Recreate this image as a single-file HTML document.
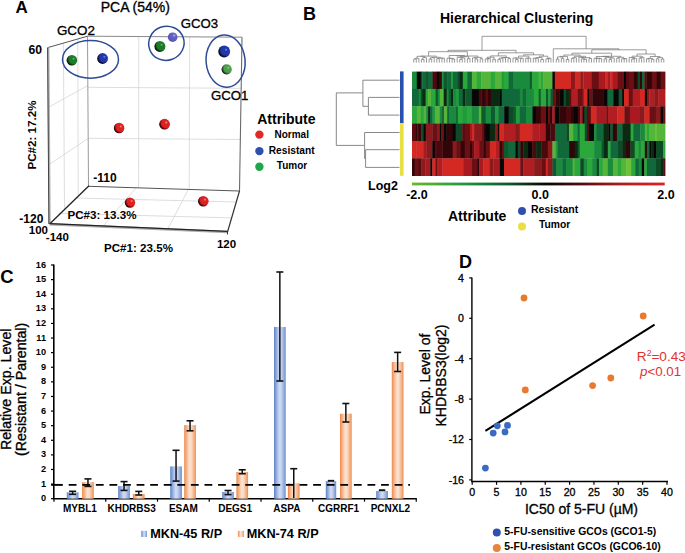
<!DOCTYPE html>
<html><head><meta charset="utf-8"><style>
html,body{margin:0;padding:0;background:#fff;overflow:hidden;}
svg{display:block;}
text{font-family:"Liberation Sans",sans-serif;}
</style></head><body>
<svg width="685" height="553" viewBox="0 0 685 553">
<defs><radialGradient id="gR" cx="0.64" cy="0.42" r="0.7" fx="0.66" fy="0.34"><stop offset="0" stop-color="#f6a0a0"/><stop offset="0.2" stop-color="#dc2222"/><stop offset="0.6" stop-color="#dc2222"/><stop offset="0.78" stop-color="#7a0808"/><stop offset="0.92" stop-color="#050505"/></radialGradient><radialGradient id="gB" cx="0.64" cy="0.42" r="0.7" fx="0.66" fy="0.34"><stop offset="0" stop-color="#7a8ae0"/><stop offset="0.2" stop-color="#2238a8"/><stop offset="0.6" stop-color="#2238a8"/><stop offset="0.78" stop-color="#0c1450"/><stop offset="0.92" stop-color="#050505"/></radialGradient><radialGradient id="gL" cx="0.62" cy="0.42" r="0.72" fx="0.66" fy="0.3"><stop offset="0" stop-color="#b4b4ee"/><stop offset="0.25" stop-color="#6464c8"/><stop offset="0.8" stop-color="#5656bc"/><stop offset="1" stop-color="#3c3ca0"/></radialGradient><radialGradient id="gG" cx="0.64" cy="0.42" r="0.7" fx="0.66" fy="0.34"><stop offset="0" stop-color="#70c070"/><stop offset="0.2" stop-color="#1c7c28"/><stop offset="0.6" stop-color="#1c7c28"/><stop offset="0.78" stop-color="#0a3a10"/><stop offset="0.92" stop-color="#050505"/></radialGradient><radialGradient id="gG2" cx="0.64" cy="0.42" r="0.7" fx="0.66" fy="0.34"><stop offset="0" stop-color="#a0d8a0"/><stop offset="0.2" stop-color="#4e9e4e"/><stop offset="0.6" stop-color="#4e9e4e"/><stop offset="0.78" stop-color="#245024"/><stop offset="0.92" stop-color="#050505"/></radialGradient><linearGradient id="bb" x1="0" x2="1" y1="0" y2="0"><stop offset="0" stop-color="#5b7fc9"/><stop offset="0.12" stop-color="#7d9bd6"/><stop offset="0.45" stop-color="#cfdaf1"/><stop offset="0.6" stop-color="#cbd7f0"/><stop offset="0.88" stop-color="#8aa6dc"/><stop offset="1" stop-color="#6a8ccf"/></linearGradient><linearGradient id="ob" x1="0" x2="1" y1="0" y2="0"><stop offset="0" stop-color="#ec8446"/><stop offset="0.12" stop-color="#f2a46f"/><stop offset="0.45" stop-color="#fbe2cf"/><stop offset="0.6" stop-color="#fadccb"/><stop offset="0.88" stop-color="#f2a977"/><stop offset="1" stop-color="#ec8a4c"/></linearGradient><linearGradient id="cs" x1="0" x2="1" y1="0" y2="0"><stop offset="0" stop-color="#6cb82c"/><stop offset="0.09" stop-color="#4aac30"/><stop offset="0.17" stop-color="#2aa040"/><stop offset="0.24" stop-color="#1a8a3c"/><stop offset="0.31" stop-color="#137038"/><stop offset="0.38" stop-color="#0d5a2e"/><stop offset="0.44" stop-color="#0a3a1a"/><stop offset="0.49" stop-color="#0a1a0c"/><stop offset="0.53" stop-color="#080606"/><stop offset="0.6" stop-color="#300506"/><stop offset="0.68" stop-color="#5a0a0c"/><stop offset="0.76" stop-color="#8a1518"/><stop offset="0.84" stop-color="#b01c1e"/><stop offset="0.92" stop-color="#cc2020"/><stop offset="1" stop-color="#d82422"/></linearGradient></defs>
<text x="15.5" y="13" font-size="17" font-weight="bold" text-anchor="start" fill="#000" >A</text>
<text x="100.7" y="12.3" font-size="14" font-weight="normal" text-anchor="start" fill="#000"  stroke="#000" stroke-width="0.32">PCA (54%)</text>
<line x1="138.8" y1="36.5" x2="138.6" y2="187.6" stroke="#d4d4d4" stroke-width="0.8" />
<line x1="189.7" y1="36.8" x2="189.2" y2="189.3" stroke="#d4d4d4" stroke-width="0.8" />
<line x1="88" y1="87.3" x2="241.2" y2="88.3" stroke="#d4d4d4" stroke-width="0.8" />
<line x1="88.3" y1="138.3" x2="240.5" y2="139.5" stroke="#d4d4d4" stroke-width="0.8" />
<line x1="63.4" y1="43.1" x2="64.5" y2="208.8" stroke="#d4d4d4" stroke-width="0.8" />
<line x1="77.8" y1="39.1" x2="78.2" y2="195.7" stroke="#d4d4d4" stroke-width="0.8" />
<line x1="48.5" y1="107.3" x2="87.6" y2="85.6" stroke="#d4d4d4" stroke-width="0.8" />
<line x1="48.9" y1="164.6" x2="88.3" y2="138.3" stroke="#d4d4d4" stroke-width="0.8" />
<line x1="136.6" y1="187.3" x2="101.3" y2="228" stroke="#d4d4d4" stroke-width="0.8" />
<line x1="188.7" y1="188.8" x2="167.2" y2="230" stroke="#d4d4d4" stroke-width="0.8" />
<line x1="75.3" y1="198" x2="236.2" y2="202" stroke="#d4d4d4" stroke-width="0.8" />
<line x1="58.4" y1="213.3" x2="231.6" y2="217.9" stroke="#d4d4d4" stroke-width="0.8" />
<line x1="87.5" y1="36.2" x2="242" y2="37.2" stroke="#8a8a8a" stroke-width="1" />
<line x1="87.5" y1="36.2" x2="88.5" y2="186.3" stroke="#9a9a9a" stroke-width="1" />
<line x1="242" y1="37.2" x2="239.5" y2="191" stroke="#6a6a6a" stroke-width="1.1" />
<line x1="47.8" y1="47.6" x2="87.5" y2="36.2" stroke="#555" stroke-width="1" />
<line x1="88.5" y1="186.3" x2="239.5" y2="191" stroke="#555" stroke-width="1" />
<line x1="48.3" y1="47.6" x2="49.6" y2="224" stroke="#b0b0b0" stroke-width="2.2" />
<line x1="47.6" y1="47.6" x2="48.9" y2="224" stroke="#444" stroke-width="1" />
<line x1="49.6" y1="224" x2="89" y2="185.7" stroke="#222" stroke-width="1.3" />
<line x1="49.6" y1="224.2" x2="227.5" y2="232" stroke="#aaa" stroke-width="2.6" />
<line x1="49.6" y1="223.6" x2="227.5" y2="231.4" stroke="#222" stroke-width="1.2" />
<line x1="227.5" y1="232" x2="239.5" y2="191" stroke="#333" stroke-width="1.2" />
<line x1="227.5" y1="231.5" x2="227.5" y2="234.5" stroke="#333" stroke-width="1" />
<ellipse cx="90.5" cy="59.4" rx="28" ry="18.8" fill="none" stroke="#2c4b94" stroke-width="1.5"/>
<ellipse cx="166.4" cy="43.3" rx="17.8" ry="17" fill="none" stroke="#2c4b94" stroke-width="1.5" transform="rotate(-20 166.4 43.3)"/>
<ellipse cx="225.6" cy="61.1" rx="19.5" ry="26.2" fill="none" stroke="#2c4b94" stroke-width="1.5" transform="rotate(-5 225.6 61.1)"/>
<circle cx="71.9" cy="60.3" r="5.3" fill="url(#gG)"/>
<circle cx="102.6" cy="58.5" r="5.4" fill="url(#gB)"/>
<circle cx="159.9" cy="46.4" r="5.5" fill="url(#gG)"/>
<circle cx="172.7" cy="37.2" r="4.8" fill="url(#gL)"/>
<circle cx="224.2" cy="51.5" r="5.9" fill="url(#gB)"/>
<circle cx="226.7" cy="69.3" r="5.1" fill="url(#gG2)"/>
<circle cx="119.1" cy="128" r="5.3" fill="url(#gR)"/>
<circle cx="164.6" cy="124.2" r="5.4" fill="url(#gR)"/>
<circle cx="130" cy="202.6" r="5.2" fill="url(#gR)"/>
<circle cx="203.3" cy="201.2" r="5.3" fill="url(#gR)"/>
<text x="56.9" y="34.5" font-size="13.4" font-weight="normal" text-anchor="start" fill="#000"  stroke="#000" stroke-width="0.32">GCO2</text>
<text x="180.7" y="28" font-size="13.2" font-weight="normal" text-anchor="start" fill="#000"  stroke="#000" stroke-width="0.32">GCO3</text>
<text x="210.9" y="99.9" font-size="13.2" font-weight="normal" text-anchor="start" fill="#000"  stroke="#000" stroke-width="0.32">GCO1</text>
<text x="42" y="54.2" font-size="12.2" font-weight="bold" text-anchor="end" fill="#000" >60</text>
<text x="93.3" y="182.3" font-size="12" font-weight="bold" text-anchor="start" fill="#000" >-110</text>
<text x="67.5" y="218.7" font-size="11.6" font-weight="bold" text-anchor="start" fill="#000" >PC#3: 13.3%</text>
<text x="43.4" y="222.7" font-size="12" font-weight="bold" text-anchor="end" fill="#000" >-120</text>
<text x="48" y="233.6" font-size="11.5" font-weight="bold" text-anchor="end" fill="#000" >100</text>
<text x="45.8" y="241.2" font-size="11.5" font-weight="bold" text-anchor="start" fill="#000" >-140</text>
<text x="104" y="251.9" font-size="11.6" font-weight="bold" text-anchor="start" fill="#000" >PC#1: 23.5%</text>
<text x="216.9" y="248.1" font-size="11.5" font-weight="bold" text-anchor="start" fill="#000" >120</text>
<text x="0" y="0" font-size="11.6" font-weight="bold" text-anchor="middle" transform="translate(35.6 135) rotate(-90)">PC#2: 17.2%</text>
<text x="286.4" y="123.6" font-size="14" font-weight="bold" text-anchor="middle" fill="#000" >Attribute</text>
<circle cx="259.4" cy="134.6" r="4.2" fill="#e02a2a"/>
<circle cx="259.4" cy="151.1" r="4.2" fill="#2f4fae"/>
<circle cx="259.4" cy="166.7" r="4.2" fill="#1ea64a"/>
<text x="291.7" y="138.2" font-size="10" font-weight="bold" text-anchor="middle" fill="#000" >Normal</text>
<text x="291.7" y="153.7" font-size="10.2" font-weight="bold" text-anchor="middle" fill="#000" >Resistant</text>
<text x="292" y="168.9" font-size="10" font-weight="bold" text-anchor="middle" fill="#000" >Tumor</text>
<text x="303" y="19.7" font-size="18" font-weight="bold" text-anchor="start" fill="#000" >B</text>
<text x="440" y="22.5" font-size="14" font-weight="bold" text-anchor="start" fill="#000" >Hierarchical Clustering</text>
<rect x="412.0" y="71.60" width="5.2" height="17.65" fill="#1a8a3c"/>
<rect x="416.8" y="71.60" width="4.4" height="17.65" fill="#060606"/>
<rect x="420.8" y="71.60" width="1.8" height="17.65" fill="#0d4a25"/>
<rect x="422.2" y="71.60" width="4.3" height="17.65" fill="#11683a"/>
<rect x="426.1" y="71.60" width="1.9" height="17.65" fill="#0d4a25"/>
<rect x="427.6" y="71.60" width="5.3" height="17.65" fill="#11683a"/>
<rect x="432.5" y="71.60" width="4.8" height="17.65" fill="#4a0a0d"/>
<rect x="436.9" y="71.60" width="2.3" height="17.65" fill="#060606"/>
<rect x="438.8" y="71.60" width="3.4" height="17.65" fill="#320508"/>
<rect x="441.8" y="71.60" width="2.3" height="17.65" fill="#1a8a3c"/>
<rect x="443.7" y="71.60" width="3.8" height="17.65" fill="#0e5a2e"/>
<rect x="447.1" y="71.60" width="4.3" height="17.65" fill="#11683a"/>
<rect x="451.0" y="71.60" width="2.4" height="17.65" fill="#1f9a3c"/>
<rect x="453.0" y="71.60" width="5.3" height="17.65" fill="#11683a"/>
<rect x="457.9" y="71.60" width="2.4" height="17.65" fill="#0d4a25"/>
<rect x="459.9" y="71.60" width="3.3" height="17.65" fill="#0a2a12"/>
<rect x="462.8" y="71.60" width="4.8" height="17.65" fill="#2aa83c"/>
<rect x="467.2" y="71.60" width="5.1" height="17.65" fill="#11683a"/>
<rect x="471.9" y="71.60" width="5.3" height="17.65" fill="#55b53a"/>
<rect x="476.8" y="71.60" width="4.8" height="17.65" fill="#2aa83c"/>
<rect x="481.2" y="71.60" width="9.7" height="17.65" fill="#55b53a"/>
<rect x="490.5" y="71.60" width="4.8" height="17.65" fill="#2aa83c"/>
<rect x="494.9" y="71.60" width="7.2" height="17.65" fill="#55b53a"/>
<rect x="501.7" y="71.60" width="2.4" height="17.65" fill="#1f9a3c"/>
<rect x="503.7" y="71.60" width="5.3" height="17.65" fill="#2aa83c"/>
<rect x="508.6" y="71.60" width="4.8" height="17.65" fill="#11683a"/>
<rect x="513.0" y="71.60" width="17.3" height="17.65" fill="#1a8a3c"/>
<rect x="529.9" y="71.60" width="2.4" height="17.65" fill="#0e5a2e"/>
<rect x="531.9" y="71.60" width="7.2" height="17.65" fill="#2aa83c"/>
<rect x="538.7" y="71.60" width="2.4" height="17.65" fill="#55b53a"/>
<rect x="540.7" y="71.60" width="2.8" height="17.65" fill="#2aa83c"/>
<rect x="543.1" y="71.60" width="9.7" height="17.65" fill="#55b53a"/>
<rect x="552.4" y="71.60" width="2.8" height="17.65" fill="#060606"/>
<rect x="554.8" y="71.60" width="16.6" height="17.65" fill="#d42822"/>
<rect x="571.0" y="71.60" width="4.3" height="17.65" fill="#8a1a1c"/>
<rect x="574.9" y="71.60" width="5.8" height="17.65" fill="#d42822"/>
<rect x="580.3" y="71.60" width="2.8" height="17.65" fill="#8a1a1c"/>
<rect x="582.7" y="71.60" width="1.7" height="17.65" fill="#d42822"/>
<rect x="584.0" y="71.60" width="8.2" height="17.65" fill="#b01e22"/>
<rect x="591.8" y="71.60" width="7.3" height="17.65" fill="#6a1015"/>
<rect x="598.7" y="71.60" width="6.7" height="17.65" fill="#a81a20"/>
<rect x="605.0" y="71.60" width="2.9" height="17.65" fill="#d42822"/>
<rect x="607.5" y="71.60" width="3.3" height="17.65" fill="#a81a20"/>
<rect x="610.4" y="71.60" width="2.8" height="17.65" fill="#d42822"/>
<rect x="612.8" y="71.60" width="4.8" height="17.65" fill="#a81a20"/>
<rect x="617.2" y="71.60" width="7.2" height="17.65" fill="#6a1015"/>
<rect x="624.0" y="71.60" width="2.4" height="17.65" fill="#060606"/>
<rect x="626.0" y="71.60" width="3.2" height="17.65" fill="#5a0a10"/>
<rect x="628.8" y="71.60" width="4.8" height="17.65" fill="#6a1015"/>
<rect x="633.2" y="71.60" width="4.8" height="17.65" fill="#320508"/>
<rect x="637.6" y="71.60" width="2.8" height="17.65" fill="#0d4a25"/>
<rect x="640.0" y="71.60" width="2.4" height="17.65" fill="#320508"/>
<rect x="642.0" y="71.60" width="2.8" height="17.65" fill="#11683a"/>
<rect x="644.4" y="71.60" width="2.4" height="17.65" fill="#5a0a10"/>
<rect x="646.4" y="71.60" width="5.8" height="17.65" fill="#320508"/>
<rect x="651.8" y="71.60" width="5.3" height="17.65" fill="#6a1015"/>
<rect x="656.7" y="71.60" width="4.3" height="17.65" fill="#320508"/>
<rect x="660.6" y="71.60" width="4.8" height="17.65" fill="#6a1015"/>
<rect x="412.0" y="88.95" width="7.2" height="17.65" fill="#11683a"/>
<rect x="418.8" y="88.95" width="2.4" height="17.65" fill="#1a8a3c"/>
<rect x="420.8" y="88.95" width="2.3" height="17.65" fill="#0d4a25"/>
<rect x="422.7" y="88.95" width="3.3" height="17.65" fill="#0a2a12"/>
<rect x="425.6" y="88.95" width="2.9" height="17.65" fill="#2aa83c"/>
<rect x="428.1" y="88.95" width="3.3" height="17.65" fill="#55b53a"/>
<rect x="431.0" y="88.95" width="4.8" height="17.65" fill="#2aa83c"/>
<rect x="435.4" y="88.95" width="2.9" height="17.65" fill="#0e5a2e"/>
<rect x="437.9" y="88.95" width="2.3" height="17.65" fill="#1a8a3c"/>
<rect x="439.8" y="88.95" width="4.3" height="17.65" fill="#55b53a"/>
<rect x="443.7" y="88.95" width="3.4" height="17.65" fill="#0a2a12"/>
<rect x="446.7" y="88.95" width="2.3" height="17.65" fill="#1a8a3c"/>
<rect x="448.6" y="88.95" width="2.8" height="17.65" fill="#0e5a2e"/>
<rect x="451.0" y="88.95" width="2.4" height="17.65" fill="#0a2a12"/>
<rect x="453.0" y="88.95" width="3.3" height="17.65" fill="#1a8a3c"/>
<rect x="455.9" y="88.95" width="3.4" height="17.65" fill="#1f9a3c"/>
<rect x="458.9" y="88.95" width="4.3" height="17.65" fill="#11683a"/>
<rect x="462.8" y="88.95" width="2.8" height="17.65" fill="#0a2a12"/>
<rect x="465.2" y="88.95" width="7.1" height="17.65" fill="#0e5a2e"/>
<rect x="471.9" y="88.95" width="7.3" height="17.65" fill="#060606"/>
<rect x="478.8" y="88.95" width="2.8" height="17.65" fill="#4a0a0d"/>
<rect x="481.2" y="88.95" width="4.8" height="17.65" fill="#320508"/>
<rect x="485.6" y="88.95" width="2.8" height="17.65" fill="#5a0a10"/>
<rect x="488.0" y="88.95" width="3.4" height="17.65" fill="#320508"/>
<rect x="491.0" y="88.95" width="4.3" height="17.65" fill="#0a2a12"/>
<rect x="494.9" y="88.95" width="4.8" height="17.65" fill="#0a2a12"/>
<rect x="499.3" y="88.95" width="2.8" height="17.65" fill="#060606"/>
<rect x="501.7" y="88.95" width="7.7" height="17.65" fill="#11683a"/>
<rect x="509.0" y="88.95" width="11.2" height="17.65" fill="#11683a"/>
<rect x="519.8" y="88.95" width="3.4" height="17.65" fill="#1a8a3c"/>
<rect x="522.8" y="88.95" width="3.6" height="17.65" fill="#11683a"/>
<rect x="526.0" y="88.95" width="8.2" height="17.65" fill="#1a8a3c"/>
<rect x="533.8" y="88.95" width="5.3" height="17.65" fill="#2aa83c"/>
<rect x="538.7" y="88.95" width="2.4" height="17.65" fill="#0e5a2e"/>
<rect x="540.7" y="88.95" width="5.7" height="17.65" fill="#2aa83c"/>
<rect x="546.0" y="88.95" width="2.4" height="17.65" fill="#0e5a2e"/>
<rect x="548.0" y="88.95" width="2.8" height="17.65" fill="#1f9a3c"/>
<rect x="550.4" y="88.95" width="2.9" height="17.65" fill="#0e5a2e"/>
<rect x="552.9" y="88.95" width="2.8" height="17.65" fill="#6a1015"/>
<rect x="555.3" y="88.95" width="4.3" height="17.65" fill="#320508"/>
<rect x="559.2" y="88.95" width="4.8" height="17.65" fill="#060606"/>
<rect x="563.6" y="88.95" width="2.8" height="17.65" fill="#0d4a25"/>
<rect x="566.0" y="88.95" width="3.4" height="17.65" fill="#0a2a12"/>
<rect x="569.0" y="88.95" width="2.9" height="17.65" fill="#5a0a10"/>
<rect x="571.5" y="88.95" width="6.7" height="17.65" fill="#b01e22"/>
<rect x="577.8" y="88.95" width="5.3" height="17.65" fill="#6a1015"/>
<rect x="582.7" y="88.95" width="1.7" height="17.65" fill="#a81a20"/>
<rect x="584.0" y="88.95" width="3.8" height="17.65" fill="#d42822"/>
<rect x="587.4" y="88.95" width="2.4" height="17.65" fill="#060606"/>
<rect x="589.4" y="88.95" width="3.3" height="17.65" fill="#6a1015"/>
<rect x="592.3" y="88.95" width="11.6" height="17.65" fill="#320508"/>
<rect x="603.5" y="88.95" width="4.4" height="17.65" fill="#060606"/>
<rect x="607.5" y="88.95" width="6.2" height="17.65" fill="#11683a"/>
<rect x="613.3" y="88.95" width="5.8" height="17.65" fill="#060606"/>
<rect x="618.7" y="88.95" width="3.8" height="17.65" fill="#0e5a2e"/>
<rect x="622.1" y="88.95" width="2.3" height="17.65" fill="#060606"/>
<rect x="624.0" y="88.95" width="5.2" height="17.65" fill="#d42822"/>
<rect x="628.8" y="88.95" width="4.3" height="17.65" fill="#6a1015"/>
<rect x="632.7" y="88.95" width="7.7" height="17.65" fill="#b01e22"/>
<rect x="640.0" y="88.95" width="5.3" height="17.65" fill="#d42822"/>
<rect x="644.9" y="88.95" width="2.4" height="17.65" fill="#060606"/>
<rect x="646.9" y="88.95" width="2.8" height="17.65" fill="#8a1a1c"/>
<rect x="649.3" y="88.95" width="5.3" height="17.65" fill="#b01e22"/>
<rect x="654.2" y="88.95" width="4.3" height="17.65" fill="#8a1a1c"/>
<rect x="658.1" y="88.95" width="7.3" height="17.65" fill="#b01e22"/>
<rect x="412.0" y="106.30" width="5.2" height="17.65" fill="#2aa83c"/>
<rect x="416.8" y="106.30" width="4.4" height="17.65" fill="#55b53a"/>
<rect x="420.8" y="106.30" width="3.3" height="17.65" fill="#2aa83c"/>
<rect x="423.7" y="106.30" width="2.8" height="17.65" fill="#55b53a"/>
<rect x="426.1" y="106.30" width="2.4" height="17.65" fill="#1a8a3c"/>
<rect x="428.1" y="106.30" width="2.3" height="17.65" fill="#0a2a12"/>
<rect x="430.0" y="106.30" width="2.9" height="17.65" fill="#11683a"/>
<rect x="432.5" y="106.30" width="2.9" height="17.65" fill="#1f9a3c"/>
<rect x="435.0" y="106.30" width="5.2" height="17.65" fill="#55b53a"/>
<rect x="439.8" y="106.30" width="2.8" height="17.65" fill="#1a8a3c"/>
<rect x="442.2" y="106.30" width="1.9" height="17.65" fill="#0d4a25"/>
<rect x="443.7" y="106.30" width="3.8" height="17.65" fill="#55b53a"/>
<rect x="447.1" y="106.30" width="2.3" height="17.65" fill="#11683a"/>
<rect x="449.0" y="106.30" width="7.4" height="17.65" fill="#1a8a3c"/>
<rect x="456.0" y="106.30" width="2.3" height="17.65" fill="#11683a"/>
<rect x="457.9" y="106.30" width="5.3" height="17.65" fill="#2aa83c"/>
<rect x="462.8" y="106.30" width="4.3" height="17.65" fill="#1f9a3c"/>
<rect x="466.7" y="106.30" width="5.6" height="17.65" fill="#2aa83c"/>
<rect x="471.9" y="106.30" width="7.3" height="17.65" fill="#1a8a3c"/>
<rect x="478.8" y="106.30" width="2.8" height="17.65" fill="#55b53a"/>
<rect x="481.2" y="106.30" width="4.8" height="17.65" fill="#0e5a2e"/>
<rect x="485.6" y="106.30" width="5.8" height="17.65" fill="#1a8a3c"/>
<rect x="491.0" y="106.30" width="4.3" height="17.65" fill="#0e5a2e"/>
<rect x="494.9" y="106.30" width="3.8" height="17.65" fill="#1f9a3c"/>
<rect x="498.3" y="106.30" width="6.3" height="17.65" fill="#11683a"/>
<rect x="504.2" y="106.30" width="4.8" height="17.65" fill="#060606"/>
<rect x="508.6" y="106.30" width="4.8" height="17.65" fill="#0d4a25"/>
<rect x="513.0" y="106.30" width="3.3" height="17.65" fill="#0e5a2e"/>
<rect x="515.9" y="106.30" width="4.3" height="17.65" fill="#1f9a3c"/>
<rect x="519.8" y="106.30" width="6.6" height="17.65" fill="#11683a"/>
<rect x="526.0" y="106.30" width="6.8" height="17.65" fill="#1a8a3c"/>
<rect x="532.4" y="106.30" width="3.8" height="17.65" fill="#060606"/>
<rect x="535.8" y="106.30" width="5.3" height="17.65" fill="#320508"/>
<rect x="540.7" y="106.30" width="5.7" height="17.65" fill="#6a1015"/>
<rect x="546.0" y="106.30" width="2.4" height="17.65" fill="#060606"/>
<rect x="548.0" y="106.30" width="2.4" height="17.65" fill="#6a1015"/>
<rect x="550.0" y="106.30" width="2.8" height="17.65" fill="#320508"/>
<rect x="552.4" y="106.30" width="2.8" height="17.65" fill="#b01e22"/>
<rect x="554.8" y="106.30" width="4.8" height="17.65" fill="#060606"/>
<rect x="559.2" y="106.30" width="7.2" height="17.65" fill="#320508"/>
<rect x="566.0" y="106.30" width="5.4" height="17.65" fill="#4a0a0d"/>
<rect x="571.0" y="106.30" width="3.3" height="17.65" fill="#320508"/>
<rect x="573.9" y="106.30" width="4.3" height="17.65" fill="#060606"/>
<rect x="577.8" y="106.30" width="2.9" height="17.65" fill="#4a0a0d"/>
<rect x="580.3" y="106.30" width="2.8" height="17.65" fill="#a81a20"/>
<rect x="582.7" y="106.30" width="2.2" height="17.65" fill="#060606"/>
<rect x="584.5" y="106.30" width="2.8" height="17.65" fill="#0d4a25"/>
<rect x="586.9" y="106.30" width="4.3" height="17.65" fill="#5a0a10"/>
<rect x="590.8" y="106.30" width="5.8" height="17.65" fill="#d42822"/>
<rect x="596.2" y="106.30" width="10.7" height="17.65" fill="#a81a20"/>
<rect x="606.5" y="106.30" width="1.9" height="17.65" fill="#6a1015"/>
<rect x="608.0" y="106.30" width="9.6" height="17.65" fill="#b01e22"/>
<rect x="617.2" y="106.30" width="7.6" height="17.65" fill="#d42822"/>
<rect x="624.4" y="106.30" width="5.8" height="17.65" fill="#6a1015"/>
<rect x="629.8" y="106.30" width="10.6" height="17.65" fill="#a81a20"/>
<rect x="640.0" y="106.30" width="4.8" height="17.65" fill="#8a1a1c"/>
<rect x="644.4" y="106.30" width="5.3" height="17.65" fill="#d42822"/>
<rect x="649.3" y="106.30" width="6.9" height="17.65" fill="#6a1015"/>
<rect x="655.8" y="106.30" width="5.2" height="17.65" fill="#8a1a1c"/>
<rect x="660.6" y="106.30" width="2.8" height="17.65" fill="#060606"/>
<rect x="663.0" y="106.30" width="2.4" height="17.65" fill="#6a1015"/>
<rect x="412.0" y="123.65" width="3.5" height="17.65" fill="#5a0a10"/>
<rect x="415.1" y="123.65" width="2.4" height="17.65" fill="#320508"/>
<rect x="417.1" y="123.65" width="1.9" height="17.65" fill="#5a0a10"/>
<rect x="418.6" y="123.65" width="2.9" height="17.65" fill="#320508"/>
<rect x="421.1" y="123.65" width="3.0" height="17.65" fill="#0d4a25"/>
<rect x="423.7" y="123.65" width="2.4" height="17.65" fill="#060606"/>
<rect x="425.7" y="123.65" width="7.0" height="17.65" fill="#8a1a1c"/>
<rect x="432.3" y="123.65" width="5.0" height="17.65" fill="#6a1015"/>
<rect x="436.9" y="123.65" width="3.4" height="17.65" fill="#8a1a1c"/>
<rect x="439.9" y="123.65" width="1.9" height="17.65" fill="#060606"/>
<rect x="441.4" y="123.65" width="3.0" height="17.65" fill="#6a1015"/>
<rect x="444.0" y="123.65" width="2.9" height="17.65" fill="#060606"/>
<rect x="446.5" y="123.65" width="6.5" height="17.65" fill="#320508"/>
<rect x="452.6" y="123.65" width="3.4" height="17.65" fill="#060606"/>
<rect x="455.6" y="123.65" width="7.0" height="17.65" fill="#0d4a25"/>
<rect x="462.2" y="123.65" width="2.9" height="17.65" fill="#5a0a10"/>
<rect x="464.7" y="123.65" width="5.7" height="17.65" fill="#6a1015"/>
<rect x="470.0" y="123.65" width="2.4" height="17.65" fill="#a81a20"/>
<rect x="472.0" y="123.65" width="2.5" height="17.65" fill="#d42822"/>
<rect x="474.1" y="123.65" width="7.5" height="17.65" fill="#8a1a1c"/>
<rect x="481.2" y="123.65" width="2.4" height="17.65" fill="#6a1015"/>
<rect x="483.2" y="123.65" width="2.9" height="17.65" fill="#320508"/>
<rect x="485.7" y="123.65" width="4.5" height="17.65" fill="#060606"/>
<rect x="489.8" y="123.65" width="5.5" height="17.65" fill="#0a2a12"/>
<rect x="494.9" y="123.65" width="3.4" height="17.65" fill="#8a1a1c"/>
<rect x="497.9" y="123.65" width="1.9" height="17.65" fill="#060606"/>
<rect x="499.4" y="123.65" width="5.0" height="17.65" fill="#d42822"/>
<rect x="504.0" y="123.65" width="12.0" height="17.65" fill="#b01e22"/>
<rect x="515.6" y="123.65" width="4.5" height="17.65" fill="#8a1a1c"/>
<rect x="519.7" y="123.65" width="12.8" height="17.65" fill="#d42822"/>
<rect x="532.1" y="123.65" width="7.5" height="17.65" fill="#b01e22"/>
<rect x="539.2" y="123.65" width="7.0" height="17.65" fill="#a81a20"/>
<rect x="545.8" y="123.65" width="4.9" height="17.65" fill="#320508"/>
<rect x="550.3" y="123.65" width="5.0" height="17.65" fill="#4a0a0d"/>
<rect x="554.9" y="123.65" width="12.0" height="17.65" fill="#11683a"/>
<rect x="566.5" y="123.65" width="3.0" height="17.65" fill="#0d4a25"/>
<rect x="569.1" y="123.65" width="4.4" height="17.65" fill="#55b53a"/>
<rect x="573.1" y="123.65" width="5.0" height="17.65" fill="#1f9a3c"/>
<rect x="577.7" y="123.65" width="2.4" height="17.65" fill="#11683a"/>
<rect x="579.7" y="123.65" width="5.5" height="17.65" fill="#2aa83c"/>
<rect x="584.8" y="123.65" width="2.6" height="17.65" fill="#0d4a25"/>
<rect x="587.0" y="123.65" width="2.4" height="17.65" fill="#5a0a10"/>
<rect x="589.0" y="123.65" width="5.5" height="17.65" fill="#060606"/>
<rect x="594.1" y="123.65" width="3.0" height="17.65" fill="#1a8a3c"/>
<rect x="596.7" y="123.65" width="7.0" height="17.65" fill="#11683a"/>
<rect x="603.3" y="123.65" width="5.4" height="17.65" fill="#0a2a12"/>
<rect x="608.3" y="123.65" width="2.5" height="17.65" fill="#060606"/>
<rect x="610.4" y="123.65" width="2.9" height="17.65" fill="#0e5a2e"/>
<rect x="612.9" y="123.65" width="4.4" height="17.65" fill="#320508"/>
<rect x="616.9" y="123.65" width="6.0" height="17.65" fill="#11683a"/>
<rect x="622.5" y="123.65" width="8.5" height="17.65" fill="#0a2a12"/>
<rect x="630.6" y="123.65" width="3.0" height="17.65" fill="#2aa83c"/>
<rect x="633.2" y="123.65" width="7.5" height="17.65" fill="#11683a"/>
<rect x="640.3" y="123.65" width="4.9" height="17.65" fill="#1a8a3c"/>
<rect x="644.8" y="123.65" width="2.5" height="17.65" fill="#55b53a"/>
<rect x="646.9" y="123.65" width="2.9" height="17.65" fill="#2aa83c"/>
<rect x="649.4" y="123.65" width="6.0" height="17.65" fill="#55b53a"/>
<rect x="655.0" y="123.65" width="1.9" height="17.65" fill="#6cc03a"/>
<rect x="656.5" y="123.65" width="8.9" height="17.65" fill="#55b53a"/>
<rect x="412.0" y="141.00" width="4.5" height="17.65" fill="#d42822"/>
<rect x="416.1" y="141.00" width="7.5" height="17.65" fill="#d42822"/>
<rect x="423.2" y="141.00" width="3.4" height="17.65" fill="#a81a20"/>
<rect x="426.2" y="141.00" width="6.5" height="17.65" fill="#8a1a1c"/>
<rect x="432.3" y="141.00" width="2.9" height="17.65" fill="#060606"/>
<rect x="434.8" y="141.00" width="2.5" height="17.65" fill="#5a0a10"/>
<rect x="436.9" y="141.00" width="5.9" height="17.65" fill="#4a0a0d"/>
<rect x="442.4" y="141.00" width="10.6" height="17.65" fill="#320508"/>
<rect x="452.6" y="141.00" width="3.9" height="17.65" fill="#8a1a1c"/>
<rect x="456.1" y="141.00" width="5.0" height="17.65" fill="#6a1015"/>
<rect x="460.7" y="141.00" width="4.4" height="17.65" fill="#320508"/>
<rect x="464.7" y="141.00" width="5.7" height="17.65" fill="#6a1015"/>
<rect x="470.0" y="141.00" width="2.4" height="17.65" fill="#320508"/>
<rect x="472.0" y="141.00" width="2.5" height="17.65" fill="#6a1015"/>
<rect x="474.1" y="141.00" width="5.4" height="17.65" fill="#a81a20"/>
<rect x="479.1" y="141.00" width="4.5" height="17.65" fill="#6a1015"/>
<rect x="483.2" y="141.00" width="2.9" height="17.65" fill="#320508"/>
<rect x="485.7" y="141.00" width="4.5" height="17.65" fill="#6a1015"/>
<rect x="489.8" y="141.00" width="6.0" height="17.65" fill="#d42822"/>
<rect x="495.4" y="141.00" width="4.4" height="17.65" fill="#b01e22"/>
<rect x="499.4" y="141.00" width="3.0" height="17.65" fill="#320508"/>
<rect x="502.0" y="141.00" width="2.4" height="17.65" fill="#6a1015"/>
<rect x="504.0" y="141.00" width="4.4" height="17.65" fill="#0e5a2e"/>
<rect x="508.0" y="141.00" width="8.0" height="17.65" fill="#11683a"/>
<rect x="515.6" y="141.00" width="2.5" height="17.65" fill="#060606"/>
<rect x="517.7" y="141.00" width="2.9" height="17.65" fill="#0d4a25"/>
<rect x="520.2" y="141.00" width="3.4" height="17.65" fill="#320508"/>
<rect x="523.2" y="141.00" width="4.7" height="17.65" fill="#0a2a12"/>
<rect x="527.5" y="141.00" width="5.0" height="17.65" fill="#060606"/>
<rect x="532.1" y="141.00" width="4.4" height="17.65" fill="#4a0a0d"/>
<rect x="536.1" y="141.00" width="5.5" height="17.65" fill="#0a2a12"/>
<rect x="541.2" y="141.00" width="7.0" height="17.65" fill="#4a0a0d"/>
<rect x="547.8" y="141.00" width="5.0" height="17.65" fill="#8a1a1c"/>
<rect x="552.4" y="141.00" width="3.4" height="17.65" fill="#55b53a"/>
<rect x="555.4" y="141.00" width="2.4" height="17.65" fill="#1f9a3c"/>
<rect x="557.4" y="141.00" width="12.1" height="17.65" fill="#11683a"/>
<rect x="569.1" y="141.00" width="5.9" height="17.65" fill="#320508"/>
<rect x="574.6" y="141.00" width="3.5" height="17.65" fill="#0a2a12"/>
<rect x="577.7" y="141.00" width="2.4" height="17.65" fill="#0e5a2e"/>
<rect x="579.7" y="141.00" width="7.7" height="17.65" fill="#2aa83c"/>
<rect x="587.0" y="141.00" width="7.5" height="17.65" fill="#2aa83c"/>
<rect x="594.1" y="141.00" width="7.5" height="17.65" fill="#1a8a3c"/>
<rect x="601.2" y="141.00" width="3.0" height="17.65" fill="#0e5a2e"/>
<rect x="603.8" y="141.00" width="4.4" height="17.65" fill="#0a2a12"/>
<rect x="607.8" y="141.00" width="3.0" height="17.65" fill="#2aa83c"/>
<rect x="610.4" y="141.00" width="7.4" height="17.65" fill="#11683a"/>
<rect x="617.4" y="141.00" width="5.5" height="17.65" fill="#0d4a25"/>
<rect x="622.5" y="141.00" width="3.9" height="17.65" fill="#0a2a12"/>
<rect x="626.0" y="141.00" width="4.8" height="17.65" fill="#320508"/>
<rect x="630.4" y="141.00" width="4.7" height="17.65" fill="#0d4a25"/>
<rect x="634.7" y="141.00" width="4.4" height="17.65" fill="#2aa83c"/>
<rect x="638.7" y="141.00" width="2.5" height="17.65" fill="#1a8a3c"/>
<rect x="640.8" y="141.00" width="4.4" height="17.65" fill="#2aa83c"/>
<rect x="644.8" y="141.00" width="2.5" height="17.65" fill="#320508"/>
<rect x="646.9" y="141.00" width="2.9" height="17.65" fill="#11683a"/>
<rect x="649.4" y="141.00" width="2.4" height="17.65" fill="#060606"/>
<rect x="651.4" y="141.00" width="3.0" height="17.65" fill="#0a2a12"/>
<rect x="654.0" y="141.00" width="2.4" height="17.65" fill="#060606"/>
<rect x="656.0" y="141.00" width="7.5" height="17.65" fill="#0d4a25"/>
<rect x="663.1" y="141.00" width="2.3" height="17.65" fill="#2aa83c"/>
<rect x="412.0" y="158.35" width="3.0" height="17.65" fill="#320508"/>
<rect x="414.6" y="158.35" width="2.9" height="17.65" fill="#6a1015"/>
<rect x="417.1" y="158.35" width="4.4" height="17.65" fill="#5a0a10"/>
<rect x="421.1" y="158.35" width="4.5" height="17.65" fill="#8a1a1c"/>
<rect x="425.2" y="158.35" width="5.5" height="17.65" fill="#a81a20"/>
<rect x="430.3" y="158.35" width="2.4" height="17.65" fill="#060606"/>
<rect x="432.3" y="158.35" width="3.4" height="17.65" fill="#d42822"/>
<rect x="435.3" y="158.35" width="2.5" height="17.65" fill="#6a1015"/>
<rect x="437.4" y="158.35" width="5.4" height="17.65" fill="#b01e22"/>
<rect x="442.4" y="158.35" width="11.6" height="17.65" fill="#d42822"/>
<rect x="453.6" y="158.35" width="2.4" height="17.65" fill="#d42822"/>
<rect x="455.6" y="158.35" width="8.5" height="17.65" fill="#d42822"/>
<rect x="463.7" y="158.35" width="8.7" height="17.65" fill="#a81a20"/>
<rect x="472.0" y="158.35" width="5.5" height="17.65" fill="#6a1015"/>
<rect x="477.1" y="158.35" width="2.4" height="17.65" fill="#320508"/>
<rect x="479.1" y="158.35" width="4.5" height="17.65" fill="#a81a20"/>
<rect x="483.2" y="158.35" width="7.0" height="17.65" fill="#d42822"/>
<rect x="489.8" y="158.35" width="3.9" height="17.65" fill="#8a1a1c"/>
<rect x="493.3" y="158.35" width="7.0" height="17.65" fill="#a81a20"/>
<rect x="499.9" y="158.35" width="4.5" height="17.65" fill="#060606"/>
<rect x="504.0" y="158.35" width="16.6" height="17.65" fill="#d42822"/>
<rect x="520.2" y="158.35" width="3.4" height="17.65" fill="#6a1015"/>
<rect x="523.2" y="158.35" width="11.3" height="17.65" fill="#b01e22"/>
<rect x="534.1" y="158.35" width="7.5" height="17.65" fill="#8a1a1c"/>
<rect x="541.2" y="158.35" width="5.0" height="17.65" fill="#6a1015"/>
<rect x="545.8" y="158.35" width="2.4" height="17.65" fill="#d42822"/>
<rect x="547.8" y="158.35" width="5.0" height="17.65" fill="#8a1a1c"/>
<rect x="552.4" y="158.35" width="4.4" height="17.65" fill="#0e5a2e"/>
<rect x="556.4" y="158.35" width="6.5" height="17.65" fill="#1a8a3c"/>
<rect x="562.5" y="158.35" width="3.9" height="17.65" fill="#11683a"/>
<rect x="566.0" y="158.35" width="7.0" height="17.65" fill="#1a8a3c"/>
<rect x="572.6" y="158.35" width="2.4" height="17.65" fill="#55b53a"/>
<rect x="574.6" y="158.35" width="6.0" height="17.65" fill="#2aa83c"/>
<rect x="580.2" y="158.35" width="3.9" height="17.65" fill="#0d4a25"/>
<rect x="583.7" y="158.35" width="3.7" height="17.65" fill="#1a8a3c"/>
<rect x="587.0" y="158.35" width="5.5" height="17.65" fill="#2aa83c"/>
<rect x="592.1" y="158.35" width="5.0" height="17.65" fill="#1a8a3c"/>
<rect x="596.7" y="158.35" width="2.9" height="17.65" fill="#0d4a25"/>
<rect x="599.2" y="158.35" width="3.9" height="17.65" fill="#2aa83c"/>
<rect x="602.7" y="158.35" width="5.5" height="17.65" fill="#55b53a"/>
<rect x="607.8" y="158.35" width="5.5" height="17.65" fill="#1a8a3c"/>
<rect x="612.9" y="158.35" width="4.9" height="17.65" fill="#55b53a"/>
<rect x="617.4" y="158.35" width="4.5" height="17.65" fill="#2aa83c"/>
<rect x="621.5" y="158.35" width="5.0" height="17.65" fill="#55b53a"/>
<rect x="626.1" y="158.35" width="5.4" height="17.65" fill="#6cc03a"/>
<rect x="631.1" y="158.35" width="4.5" height="17.65" fill="#2aa83c"/>
<rect x="635.2" y="158.35" width="3.9" height="17.65" fill="#11683a"/>
<rect x="638.7" y="158.35" width="3.5" height="17.65" fill="#1a8a3c"/>
<rect x="641.8" y="158.35" width="2.9" height="17.65" fill="#060606"/>
<rect x="644.3" y="158.35" width="3.0" height="17.65" fill="#2aa83c"/>
<rect x="646.9" y="158.35" width="9.5" height="17.65" fill="#11683a"/>
<rect x="656.0" y="158.35" width="5.4" height="17.65" fill="#0d4a25"/>
<rect x="661.0" y="158.35" width="2.5" height="17.65" fill="#0a2a12"/>
<rect x="663.1" y="158.35" width="2.3" height="17.65" fill="#5a0a10"/>
<rect x="400" y="71.4" width="3.6" height="51.8" fill="#2a50b0"/>
<rect x="400" y="123.2" width="3.6" height="52.6" fill="#e6e040"/>
<path d="M399.5 80.2H362.9V106.3H368.4V97.4H399.5M368.4 106.3V115.1H399.5" fill="none" stroke="#7a7a7a" stroke-width="0.9"/>
<path d="M362.9 92.9H336.3V145.4H364.6V132.5H399.5M364.6 145.4V158.5H365.6V149.7H399.5M365.6 158.5V167.4H399.5" fill="none" stroke="#7a7a7a" stroke-width="0.9"/>
<path d="M413.8 62.6V59.1H416.3V62.6 M415.1 59.1V58.3H418.9V62.6 M421.4 62.6V59.4H424.0V62.6 M422.7 59.4V57.7H426.5V62.6 M417.0 58.3V56.3H424.6V57.7 M429.1 62.6V59.1H431.7V62.6 M430.4 59.1V57.7H434.2V62.6 M436.8 62.6V58.6H439.3V62.6 M441.9 62.6V58.2H444.4V62.6 M438.0 58.6V58.1H443.1V58.2 M432.3 57.7V57.3H440.6V58.1 M420.8 56.3V56.1H436.4V57.3 M452.1 62.6V59.0H454.6V62.6 M449.5 62.6V58.4H453.4V59.0 M447.0 62.6V58.2H451.4V58.4 M459.7 62.6V59.5H462.3V62.6 M461.0 59.5V58.0H464.8V62.6 M457.2 62.6V57.4H462.9V58.0 M467.4 62.6V58.6H470.0V62.6 M460.1 57.4V56.7H468.7V58.6 M449.2 58.2V55.5H464.4V56.7 M475.1 62.6V59.0H477.6V62.6 M472.5 62.6V57.9H476.3V59.0 M480.2 62.6V58.7H482.7V62.6 M474.4 57.9V57.4H481.4V58.7 M456.8 55.5V56.0H477.9V57.4 M428.6 56.1V51.7H467.4V56.0 M487.8 62.6V58.3H490.3V62.6 M485.3 62.6V58.9H489.1V58.3 M492.8 62.6V59.3H495.4V62.6 M487.2 58.9V57.2H494.1V59.3 M497.9 62.6V59.4H500.4V62.6 M499.2 59.4V58.2H502.9V62.6 M501.1 58.2V57.8H505.5V62.6 M508.0 62.6V58.6H510.5V62.6 M503.3 57.8V57.5H509.3V58.6 M490.6 57.2V55.9H506.3V57.5 M515.6 62.6V59.6H518.1V62.6 M513.0 62.6V58.0H516.8V59.6 M520.6 62.6V58.2H523.2V62.6 M514.9 58.0V58.1H521.9V58.2 M525.7 62.6V58.2H528.2V62.6 M526.9 58.2V58.2H530.7V62.6 M518.4 58.1V56.1H528.8V58.2 M533.3 62.6V58.2H535.8V62.6 M534.5 58.2V58.3H538.3V62.6 M540.8 62.6V59.5H543.4V62.6 M536.4 58.3V57.5H542.1V59.5 M548.4 62.6V58.1H550.9V62.6 M545.9 62.6V58.8H549.7V58.1 M539.3 57.5V56.2H547.8V58.8 M523.6 56.1V54.8H543.5V56.2 M498.4 55.9V52.8H533.6V54.8 M448.0 51.7V50.3H516.0V52.8 M556.3 62.6V59.1H558.8V62.6 M561.3 62.6V58.3H563.8V62.6 M557.5 59.1V56.9H562.6V58.3 M566.3 62.6V59.5H568.8V62.6 M560.0 56.9V56.4H567.6V59.5 M571.4 62.6V58.4H573.9V62.6 M572.6 58.4V57.7H576.4V62.6 M583.9 62.6V59.3H586.5V62.6 M581.4 62.6V58.9H585.2V59.3 M578.9 62.6V57.2H583.3V58.9 M589.0 62.6V58.5H591.5V62.6 M581.1 57.2V57.6H590.2V58.5 M574.5 57.7V56.3H585.7V57.6 M563.8 56.4V55.0H580.1V56.3 M599.1 62.6V58.6H601.6V62.6 M596.5 62.6V58.2H600.3V58.6 M594.0 62.6V58.3H598.4V58.2 M604.1 62.6V58.9H606.6V62.6 M609.1 62.6V59.5H611.6V62.6 M610.4 59.5V58.0H614.2V62.6 M605.3 58.9V57.6H612.3V58.0 M596.2 58.3V56.5H608.8V57.6 M616.7 62.6V58.1H619.2V62.6 M624.2 62.6V58.6H626.7V62.6 M621.7 62.6V58.8H625.5V58.6 M617.9 58.1V57.3H623.6V58.8 M602.5 56.5V56.3H620.8V57.3 M572.0 55.0V53.2H611.6V56.3 M631.7 62.6V59.0H634.2V62.6 M632.9 59.0V58.4H636.6V62.6 M629.2 62.6V57.5H634.8V58.4 M639.1 62.6V58.1H641.6V62.6 M640.3 58.1V57.4H644.0V62.6 M632.0 57.5V56.2H642.2V57.4 M646.5 62.6V58.8H649.0V62.6 M651.4 62.6V59.4H653.9V62.6 M647.7 58.8V58.4H652.7V59.4 M656.4 62.6V58.8H658.8V62.6 M661.3 62.6V59.0H663.8V62.6 M657.6 58.8V57.6H662.5V59.0 M650.2 58.4V56.5H660.1V57.6 M637.1 56.2V54.0H655.1V56.5 M591.8 53.2V49.8H646.1V54.0 M553.3 62.6V48.8H619.0V49.8 M482.0 50.3V36.3H586.1V48.8" fill="none" stroke="#7a7a7a" stroke-width="0.75"/>
<text x="368" y="190.2" font-size="12.5" font-weight="bold" text-anchor="start" fill="#000" >Log2</text>
<rect x="412" y="182.6" width="252.7" height="2.8" fill="url(#cs)"/>
<text x="406.2" y="199.2" font-size="12.5" font-weight="bold" text-anchor="start" fill="#000" >-2.0</text>
<text x="540.2" y="199.2" font-size="12.5" font-weight="bold" text-anchor="middle" fill="#000" >0.0</text>
<text x="657.3" y="199.2" font-size="12.5" font-weight="bold" text-anchor="start" fill="#000" >2.0</text>
<text x="448" y="221.3" font-size="14" font-weight="bold" text-anchor="start" fill="#000" >Attribute</text>
<circle cx="522" cy="211.1" r="4" fill="#2f4fae"/>
<circle cx="522" cy="226.5" r="4" fill="#e8e040"/>
<text x="531" y="213.2" font-size="10.5" font-weight="bold" text-anchor="start" fill="#000" >Resistant</text>
<text x="539" y="228.2" font-size="10.3" font-weight="bold" text-anchor="start" fill="#000" >Tumor</text>
<text x="0.3" y="282.5" font-size="18.5" font-weight="bold" text-anchor="start" fill="#000" >C</text>
<line x1="53.8" y1="264.4" x2="53.8" y2="498.7" stroke="#000" stroke-width="1.6" />
<line x1="51" y1="498.7" x2="53.9" y2="498.7" stroke="#000" stroke-width="1.2" />
<text x="46" y="501.3" font-size="9.2" font-weight="bold" text-anchor="end" fill="#000" >0</text>
<line x1="51" y1="484.094" x2="53.9" y2="484.094" stroke="#000" stroke-width="1.2" />
<text x="46" y="486.694" font-size="9.2" font-weight="bold" text-anchor="end" fill="#000" >1</text>
<line x1="51" y1="469.488" x2="53.9" y2="469.488" stroke="#000" stroke-width="1.2" />
<text x="46" y="472.088" font-size="9.2" font-weight="bold" text-anchor="end" fill="#000" >2</text>
<line x1="51" y1="454.882" x2="53.9" y2="454.882" stroke="#000" stroke-width="1.2" />
<text x="46" y="457.482" font-size="9.2" font-weight="bold" text-anchor="end" fill="#000" >3</text>
<line x1="51" y1="440.276" x2="53.9" y2="440.276" stroke="#000" stroke-width="1.2" />
<text x="46" y="442.87600000000003" font-size="9.2" font-weight="bold" text-anchor="end" fill="#000" >4</text>
<line x1="51" y1="425.66999999999996" x2="53.9" y2="425.66999999999996" stroke="#000" stroke-width="1.2" />
<text x="46" y="428.27" font-size="9.2" font-weight="bold" text-anchor="end" fill="#000" >5</text>
<line x1="51" y1="411.06399999999996" x2="53.9" y2="411.06399999999996" stroke="#000" stroke-width="1.2" />
<text x="46" y="413.664" font-size="9.2" font-weight="bold" text-anchor="end" fill="#000" >6</text>
<line x1="51" y1="396.45799999999997" x2="53.9" y2="396.45799999999997" stroke="#000" stroke-width="1.2" />
<text x="46" y="399.058" font-size="9.2" font-weight="bold" text-anchor="end" fill="#000" >7</text>
<line x1="51" y1="381.852" x2="53.9" y2="381.852" stroke="#000" stroke-width="1.2" />
<text x="46" y="384.452" font-size="9.2" font-weight="bold" text-anchor="end" fill="#000" >8</text>
<line x1="51" y1="367.246" x2="53.9" y2="367.246" stroke="#000" stroke-width="1.2" />
<text x="46" y="369.846" font-size="9.2" font-weight="bold" text-anchor="end" fill="#000" >9</text>
<line x1="51" y1="352.64" x2="53.9" y2="352.64" stroke="#000" stroke-width="1.2" />
<text x="46" y="355.24" font-size="9.2" font-weight="bold" text-anchor="end" fill="#000" >10</text>
<line x1="51" y1="338.034" x2="53.9" y2="338.034" stroke="#000" stroke-width="1.2" />
<text x="46" y="340.634" font-size="9.2" font-weight="bold" text-anchor="end" fill="#000" >11</text>
<line x1="51" y1="323.428" x2="53.9" y2="323.428" stroke="#000" stroke-width="1.2" />
<text x="46" y="326.028" font-size="9.2" font-weight="bold" text-anchor="end" fill="#000" >12</text>
<line x1="51" y1="308.822" x2="53.9" y2="308.822" stroke="#000" stroke-width="1.2" />
<text x="46" y="311.422" font-size="9.2" font-weight="bold" text-anchor="end" fill="#000" >13</text>
<line x1="51" y1="294.216" x2="53.9" y2="294.216" stroke="#000" stroke-width="1.2" />
<text x="46" y="296.81600000000003" font-size="9.2" font-weight="bold" text-anchor="end" fill="#000" >14</text>
<line x1="51" y1="279.61" x2="53.9" y2="279.61" stroke="#000" stroke-width="1.2" />
<text x="46" y="282.21000000000004" font-size="9.2" font-weight="bold" text-anchor="end" fill="#000" >15</text>
<line x1="51" y1="265.004" x2="53.9" y2="265.004" stroke="#000" stroke-width="1.2" />
<text x="46" y="267.60400000000004" font-size="9.2" font-weight="bold" text-anchor="end" fill="#000" >16</text>
<text x="0" y="0" font-size="14.2" text-anchor="middle" transform="translate(10.9 389.3) rotate(-90)" stroke="#000" stroke-width="0.32">Relative Exp. Level</text>
<text x="0" y="0" font-size="14.2" text-anchor="middle" transform="translate(25.8 389.4) rotate(-90)" stroke="#000" stroke-width="0.32">(Resistant / Parental)</text>
<line x1="53.2" y1="498.7" x2="416.8" y2="498.7" stroke="#000" stroke-width="1.6" />
<line x1="54.0" y1="498.7" x2="54.0" y2="501.7" stroke="#000" stroke-width="1.2" />
<line x1="105.75" y1="498.7" x2="105.75" y2="501.7" stroke="#000" stroke-width="1.2" />
<line x1="157.5" y1="498.7" x2="157.5" y2="501.7" stroke="#000" stroke-width="1.2" />
<line x1="209.25" y1="498.7" x2="209.25" y2="501.7" stroke="#000" stroke-width="1.2" />
<line x1="261.0" y1="498.7" x2="261.0" y2="501.7" stroke="#000" stroke-width="1.2" />
<line x1="312.75" y1="498.7" x2="312.75" y2="501.7" stroke="#000" stroke-width="1.2" />
<line x1="364.5" y1="498.7" x2="364.5" y2="501.7" stroke="#000" stroke-width="1.2" />
<line x1="416.25" y1="498.7" x2="416.25" y2="501.7" stroke="#000" stroke-width="1.2" />
<rect x="66.8" y="492.3" width="11.7" height="6.4" fill="url(#bb)"/>
<rect x="82.1" y="482.1" width="11.7" height="16.6" fill="url(#ob)"/>
<line x1="72.64999999999999" y1="491.3" x2="72.64999999999999" y2="494.3" stroke="#111" stroke-width="1.5" />
<line x1="69.14999999999999" y1="491.3" x2="76.14999999999999" y2="491.3" stroke="#111" stroke-width="1.6" />
<line x1="69.14999999999999" y1="494.3" x2="76.14999999999999" y2="494.3" stroke="#111" stroke-width="1.6" />
<line x1="87.94999999999999" y1="478.9" x2="87.94999999999999" y2="486.4" stroke="#111" stroke-width="1.5" />
<line x1="84.44999999999999" y1="478.9" x2="91.44999999999999" y2="478.9" stroke="#111" stroke-width="1.6" />
<line x1="84.44999999999999" y1="486.4" x2="91.44999999999999" y2="486.4" stroke="#111" stroke-width="1.6" />
<text x="79.875" y="511.8" font-size="10" font-weight="bold" text-anchor="middle" fill="#000" >MYBL1</text>
<rect x="118.2" y="486.0" width="11.7" height="12.7" fill="url(#bb)"/>
<rect x="132.9" y="493.9" width="11.7" height="4.8" fill="url(#ob)"/>
<line x1="124.05" y1="481.6" x2="124.05" y2="490.4" stroke="#111" stroke-width="1.5" />
<line x1="120.55" y1="481.6" x2="127.55" y2="481.6" stroke="#111" stroke-width="1.6" />
<line x1="120.55" y1="490.4" x2="127.55" y2="490.4" stroke="#111" stroke-width="1.6" />
<line x1="138.75" y1="491.4" x2="138.75" y2="495.0" stroke="#111" stroke-width="1.5" />
<line x1="135.25" y1="491.4" x2="142.25" y2="491.4" stroke="#111" stroke-width="1.6" />
<line x1="135.25" y1="495.0" x2="142.25" y2="495.0" stroke="#111" stroke-width="1.6" />
<text x="131.625" y="511.8" font-size="10" font-weight="bold" text-anchor="middle" fill="#000" >KHDRBS3</text>
<rect x="170.2" y="466.4" width="11.7" height="32.3" fill="url(#bb)"/>
<rect x="184.2" y="425.1" width="11.7" height="73.6" fill="url(#ob)"/>
<line x1="176.04999999999998" y1="450.3" x2="176.04999999999998" y2="481.1" stroke="#111" stroke-width="1.5" />
<line x1="172.54999999999998" y1="450.3" x2="179.54999999999998" y2="450.3" stroke="#111" stroke-width="1.6" />
<line x1="172.54999999999998" y1="481.1" x2="179.54999999999998" y2="481.1" stroke="#111" stroke-width="1.6" />
<line x1="190.04999999999998" y1="420.8" x2="190.04999999999998" y2="430.8" stroke="#111" stroke-width="1.5" />
<line x1="186.54999999999998" y1="420.8" x2="193.54999999999998" y2="420.8" stroke="#111" stroke-width="1.6" />
<line x1="186.54999999999998" y1="430.8" x2="193.54999999999998" y2="430.8" stroke="#111" stroke-width="1.6" />
<text x="183.375" y="511.8" font-size="10" font-weight="bold" text-anchor="middle" fill="#000" >ESAM</text>
<rect x="222.2" y="492.0" width="11.7" height="6.7" fill="url(#bb)"/>
<rect x="236.4" y="472.0" width="11.7" height="26.7" fill="url(#ob)"/>
<line x1="228.04999999999998" y1="490.5" x2="228.04999999999998" y2="494.6" stroke="#111" stroke-width="1.5" />
<line x1="224.54999999999998" y1="490.5" x2="231.54999999999998" y2="490.5" stroke="#111" stroke-width="1.6" />
<line x1="224.54999999999998" y1="494.6" x2="231.54999999999998" y2="494.6" stroke="#111" stroke-width="1.6" />
<line x1="242.25" y1="469.8" x2="242.25" y2="473.7" stroke="#111" stroke-width="1.5" />
<line x1="238.75" y1="469.8" x2="245.75" y2="469.8" stroke="#111" stroke-width="1.6" />
<line x1="238.75" y1="473.7" x2="245.75" y2="473.7" stroke="#111" stroke-width="1.6" />
<text x="235.125" y="511.8" font-size="10" font-weight="bold" text-anchor="middle" fill="#000" >DEGS1</text>
<rect x="274.0" y="327.0" width="11.7" height="171.7" fill="url(#bb)"/>
<rect x="287.9" y="483.2" width="11.7" height="15.5" fill="url(#ob)"/>
<line x1="279.85" y1="272" x2="279.85" y2="381" stroke="#111" stroke-width="1.5" />
<line x1="276.35" y1="272" x2="283.35" y2="272" stroke="#111" stroke-width="1.6" />
<line x1="276.35" y1="381" x2="283.35" y2="381" stroke="#111" stroke-width="1.6" />
<line x1="293.75" y1="468.7" x2="293.75" y2="498" stroke="#111" stroke-width="1.5" />
<line x1="290.25" y1="468.7" x2="297.25" y2="468.7" stroke="#111" stroke-width="1.6" />
<text x="286.875" y="511.8" font-size="10" font-weight="bold" text-anchor="middle" fill="#000" >ASPA</text>
<rect x="325.8" y="481.1" width="10.4" height="17.6" fill="url(#bb)"/>
<rect x="340.0" y="413.7" width="11.7" height="85.0" fill="url(#ob)"/>
<line x1="327.8" y1="480.8" x2="334.2" y2="480.8" stroke="#111" stroke-width="1.9" />
<line x1="345.85" y1="403.5" x2="345.85" y2="422" stroke="#111" stroke-width="1.5" />
<line x1="342.35" y1="403.5" x2="349.35" y2="403.5" stroke="#111" stroke-width="1.6" />
<line x1="342.35" y1="422" x2="349.35" y2="422" stroke="#111" stroke-width="1.6" />
<text x="338.625" y="511.8" font-size="10" font-weight="bold" text-anchor="middle" fill="#000" >CGRRF1</text>
<rect x="376.2" y="491.0" width="11.7" height="7.7" fill="url(#bb)"/>
<rect x="391.8" y="362.0" width="11.7" height="136.7" fill="url(#ob)"/>
<line x1="378.85" y1="490.2" x2="385.25" y2="490.2" stroke="#111" stroke-width="1.9" />
<line x1="397.65000000000003" y1="352.4" x2="397.65000000000003" y2="371.5" stroke="#111" stroke-width="1.5" />
<line x1="394.15000000000003" y1="352.4" x2="401.15000000000003" y2="352.4" stroke="#111" stroke-width="1.6" />
<line x1="394.15000000000003" y1="371.5" x2="401.15000000000003" y2="371.5" stroke="#111" stroke-width="1.6" />
<text x="390.375" y="511.8" font-size="10" font-weight="bold" text-anchor="middle" fill="#000" >PCNXL2</text>
<line x1="51.2" y1="484.9" x2="62.8" y2="484.9" stroke="#000" stroke-width="1.9" />
<line x1="68.7" y1="484.9" x2="410" y2="484.9" stroke="#000" stroke-width="1.9" stroke-dasharray="7.8 5.78"/>
<rect x="141.3" y="530.8" width="5.6" height="6.2" fill="url(#bb)"/>
<text x="150.2" y="537.7" font-size="12.7" font-weight="bold" text-anchor="start" fill="#000" >MKN-45 R/P</text>
<rect x="237.9" y="530.8" width="6" height="6.2" fill="url(#ob)"/>
<text x="246.7" y="537.7" font-size="12.7" font-weight="bold" text-anchor="start" fill="#000" >MKN-74 R/P</text>
<text x="459" y="267.6" font-size="18" font-weight="bold" text-anchor="start" fill="#000" >D</text>
<line x1="471.9" y1="277.5" x2="471.9" y2="481.5" stroke="#000" stroke-width="1.4" />
<line x1="471.2" y1="481.5" x2="668" y2="481.5" stroke="#000" stroke-width="1.4" />
<line x1="469.2" y1="277.90000000000003" x2="471.9" y2="277.90000000000003" stroke="#000" stroke-width="1.2" />
<text x="464" y="281.70000000000005" font-size="10.6" font-weight="normal" text-anchor="end" fill="#000"  stroke="#000" stroke-width="0.32">4</text>
<line x1="469.2" y1="318.3" x2="471.9" y2="318.3" stroke="#000" stroke-width="1.2" />
<text x="464" y="322.1" font-size="10.6" font-weight="normal" text-anchor="end" fill="#000"  stroke="#000" stroke-width="0.32">0</text>
<line x1="469.2" y1="358.7" x2="471.9" y2="358.7" stroke="#000" stroke-width="1.2" />
<text x="464" y="362.5" font-size="10.6" font-weight="normal" text-anchor="end" fill="#000"  stroke="#000" stroke-width="0.32">-4</text>
<line x1="469.2" y1="399.1" x2="471.9" y2="399.1" stroke="#000" stroke-width="1.2" />
<text x="464" y="402.90000000000003" font-size="10.6" font-weight="normal" text-anchor="end" fill="#000"  stroke="#000" stroke-width="0.32">-8</text>
<line x1="469.2" y1="439.5" x2="471.9" y2="439.5" stroke="#000" stroke-width="1.2" />
<text x="464" y="443.3" font-size="10.6" font-weight="normal" text-anchor="end" fill="#000"  stroke="#000" stroke-width="0.32">-12</text>
<line x1="469.2" y1="479.9" x2="471.9" y2="479.9" stroke="#000" stroke-width="1.2" />
<text x="464" y="483.7" font-size="10.6" font-weight="normal" text-anchor="end" fill="#000"  stroke="#000" stroke-width="0.32">-16</text>
<line x1="472.2" y1="481.5" x2="472.2" y2="484.8" stroke="#000" stroke-width="1.2" />
<text x="472.2" y="496.3" font-size="10.6" font-weight="normal" text-anchor="middle" fill="#000"  stroke="#000" stroke-width="0.32">0</text>
<line x1="496.55" y1="481.5" x2="496.55" y2="484.8" stroke="#000" stroke-width="1.2" />
<text x="496.55" y="496.3" font-size="10.6" font-weight="normal" text-anchor="middle" fill="#000"  stroke="#000" stroke-width="0.32">5</text>
<line x1="520.9" y1="481.5" x2="520.9" y2="484.8" stroke="#000" stroke-width="1.2" />
<text x="520.9" y="496.3" font-size="10.6" font-weight="normal" text-anchor="middle" fill="#000"  stroke="#000" stroke-width="0.32">10</text>
<line x1="545.25" y1="481.5" x2="545.25" y2="484.8" stroke="#000" stroke-width="1.2" />
<text x="545.25" y="496.3" font-size="10.6" font-weight="normal" text-anchor="middle" fill="#000"  stroke="#000" stroke-width="0.32">15</text>
<line x1="569.6" y1="481.5" x2="569.6" y2="484.8" stroke="#000" stroke-width="1.2" />
<text x="569.6" y="496.3" font-size="10.6" font-weight="normal" text-anchor="middle" fill="#000"  stroke="#000" stroke-width="0.32">20</text>
<line x1="593.95" y1="481.5" x2="593.95" y2="484.8" stroke="#000" stroke-width="1.2" />
<text x="593.95" y="496.3" font-size="10.6" font-weight="normal" text-anchor="middle" fill="#000"  stroke="#000" stroke-width="0.32">25</text>
<line x1="618.3" y1="481.5" x2="618.3" y2="484.8" stroke="#000" stroke-width="1.2" />
<text x="618.3" y="496.3" font-size="10.6" font-weight="normal" text-anchor="middle" fill="#000"  stroke="#000" stroke-width="0.32">30</text>
<line x1="642.65" y1="481.5" x2="642.65" y2="484.8" stroke="#000" stroke-width="1.2" />
<text x="642.65" y="496.3" font-size="10.6" font-weight="normal" text-anchor="middle" fill="#000"  stroke="#000" stroke-width="0.32">35</text>
<line x1="667.0" y1="481.5" x2="667.0" y2="484.8" stroke="#000" stroke-width="1.2" />
<text x="667.0" y="496.3" font-size="10.6" font-weight="normal" text-anchor="middle" fill="#000"  stroke="#000" stroke-width="0.32">40</text>
<text x="0" y="0" font-size="14" text-anchor="middle" transform="translate(430 374) rotate(-90)" stroke="#000" stroke-width="0.32">Exp. Level of</text>
<text x="0" y="0" font-size="14" text-anchor="middle" transform="translate(445.5 375.5) rotate(-90)" stroke="#000" stroke-width="0.32">KHDRBS3(log2)</text>
<text x="581.5" y="514.4" font-size="14" font-weight="normal" text-anchor="middle" fill="#000"  stroke="#000" stroke-width="0.32">IC50 of 5-FU (µM)</text>
<line x1="485.4" y1="430.9" x2="654.6" y2="324.6" stroke="#000" stroke-width="2" />
<circle cx="485.4" cy="468.1" r="3.4" fill="#3a6ac4"/>
<circle cx="493.2" cy="433.1" r="3.4" fill="#3a6ac4"/>
<circle cx="497.3" cy="425.8" r="3.4" fill="#3a6ac4"/>
<circle cx="505" cy="431.9" r="3.4" fill="#3a6ac4"/>
<circle cx="507.5" cy="425.4" r="3.4" fill="#3a6ac4"/>
<circle cx="524" cy="298" r="3.4" fill="#e87a30"/>
<circle cx="525.3" cy="389.9" r="3.4" fill="#e87a30"/>
<circle cx="643.2" cy="316" r="3.4" fill="#e87a30"/>
<circle cx="610.8" cy="378" r="3.4" fill="#e87a30"/>
<circle cx="592.6" cy="385.6" r="3.4" fill="#e87a30"/>
<text x="636.8" y="360.8" font-size="13.6" font-weight="normal" text-anchor="start" fill="#e0332e" stroke="none">R<tspan font-size="8.6" dy="-5.3">2</tspan><tspan dy="5.3">=0.43</tspan></text>
<text x="640" y="375.9" font-size="13.3" font-weight="normal" text-anchor="start" fill="#e0332e" stroke="none"><tspan font-style="italic">p</tspan>&lt;0.01</text>
<circle cx="496.8" cy="532.4" r="4" fill="#2f50ae"/>
<circle cx="496.8" cy="547.9" r="4" fill="#e8843c"/>
<text x="504.3" y="534.7" font-size="10.4" font-weight="bold" text-anchor="start" fill="#000" >5-FU-sensitive GCOs (GCO1-5)</text>
<text x="504.3" y="550.3" font-size="10.4" font-weight="bold" text-anchor="start" fill="#000" >5-FU-resistant GCOs (GCO6-10)</text>
</svg>
</body></html>
